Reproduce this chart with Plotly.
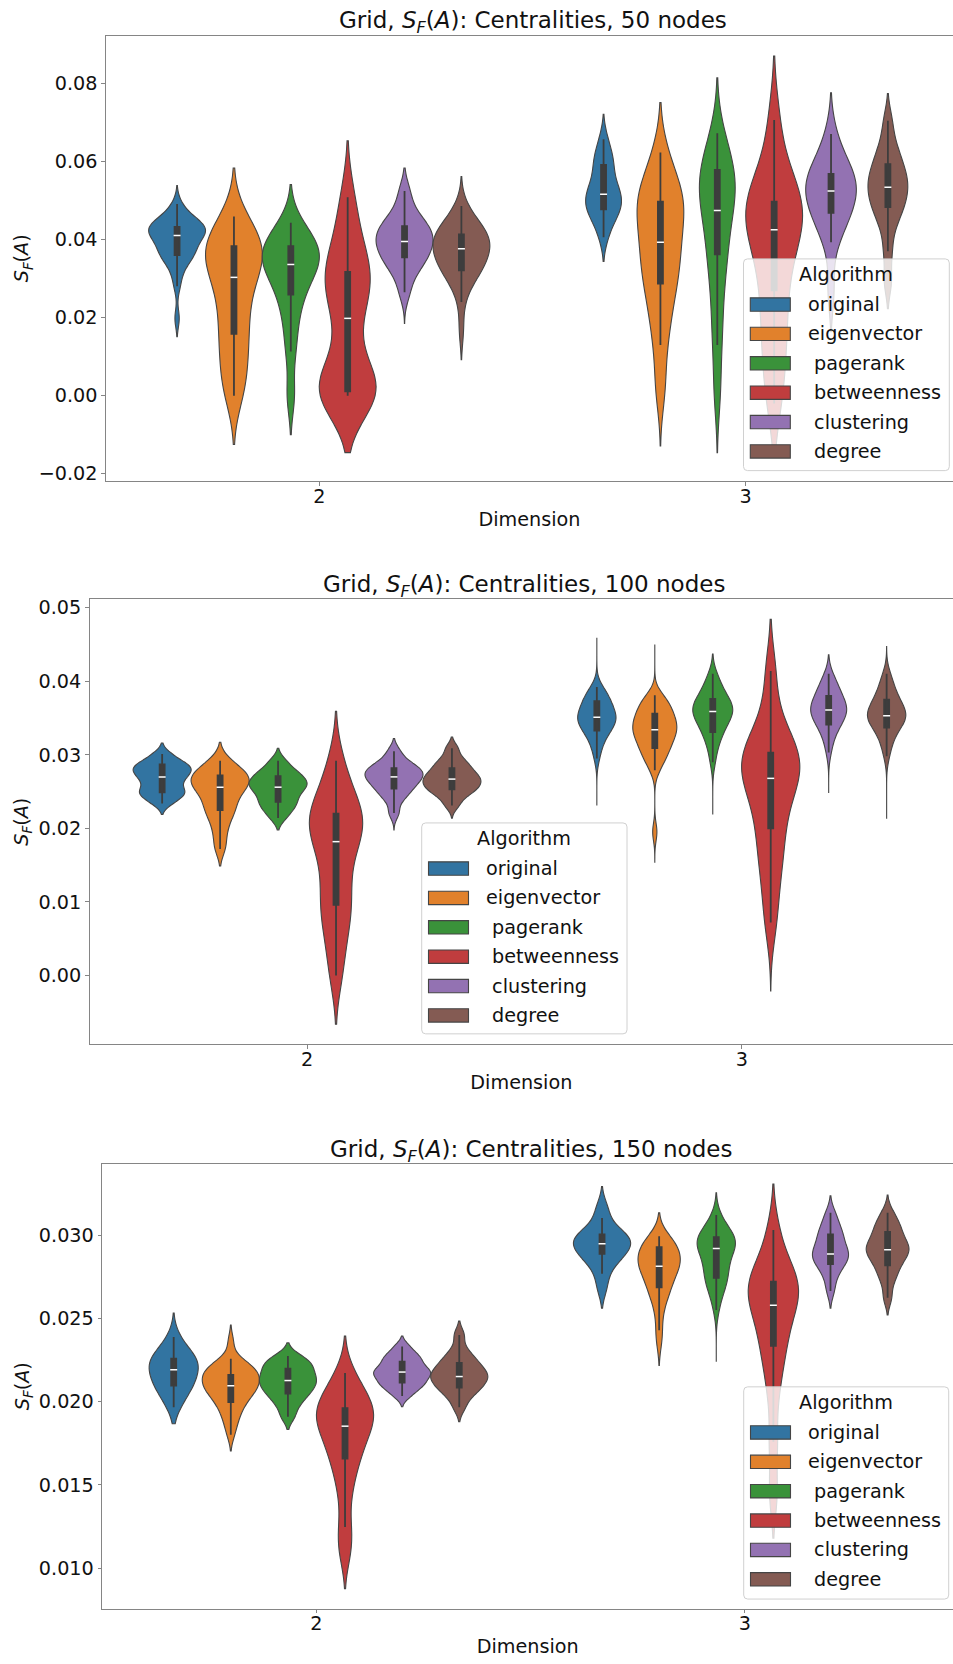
import plotly.graph_objects as go

# ---------------------------------------------------------------- data
ALGORITHMS = ["original", "eigenvector", " pagerank", " betweenness", " clustering", " degree"]
DIMENSIONS = ["2", "3"]
NODE_COUNTS = [50, 100, 150]
COLORS = ["#3274a1", "#e1812c", "#3a923a", "#c03d3e", "#9372b2", "#845b53"]

# S_F(A) values per run, one list per algorithm (order of ALGORITHMS)
S50_D2 = [
    [0.0198, 0.028, 0.031, 0.033, 0.0343, 0.0352, 0.0358, 0.0363, 0.0369, 0.0375, 0.0381, 0.0388, 0.0395, 0.0401, 0.0407,
     0.0412, 0.0416, 0.0419, 0.0422, 0.0425, 0.0428, 0.0431, 0.0434, 0.0438, 0.0442, 0.0447, 0.0453, 0.046, 0.0472, 0.0491],
    [0.0, 0.004, 0.009, 0.013, 0.017, 0.021, 0.025, 0.029, 0.0315, 0.034, 0.0355, 0.037, 0.0385, 0.040, 0.042, 0.0459],
    [0.0, 0.0113, 0.018, 0.023, 0.0265, 0.029, 0.031, 0.033, 0.0342, 0.0352, 0.036, 0.037, 0.0385, 0.040, 0.0415, 0.0443],
    [0.0, 0.0, 0.0005, 0.001, 0.0012, 0.003, 0.008, 0.016, 0.0225, 0.026, 0.029, 0.031, 0.033, 0.037, 0.043, 0.0508],
    [0.0265, 0.031, 0.033, 0.0345, 0.0357, 0.037, 0.038, 0.039, 0.040, 0.041, 0.042, 0.043, 0.044, 0.0455, 0.048, 0.0524],
    [0.0167, 0.024, 0.0275, 0.0295, 0.0306, 0.0314, 0.032, 0.0327, 0.0334, 0.0341, 0.0348, 0.0355, 0.0361, 0.0367, 0.0372,
     0.0379, 0.0384, 0.0389, 0.0394, 0.0399, 0.0404, 0.0409, 0.0414, 0.0419, 0.0425, 0.0432, 0.044, 0.045, 0.0465, 0.0486],
]
S50_D3 = [
    [0.0406, 0.044, 0.046, 0.047, 0.048, 0.049, 0.050, 0.051, 0.052, 0.053, 0.0545, 0.0565, 0.059, 0.0605, 0.062, 0.0657],
    [0.002, 0.013, 0.02, 0.025, 0.029, 0.032, 0.035, 0.038, 0.041, 0.044, 0.047, 0.049, 0.051, 0.053, 0.056, 0.0623],
    [0.001, 0.013, 0.021, 0.029, 0.034, 0.038, 0.042, 0.046, 0.049, 0.051, 0.053, 0.055, 0.0575, 0.059, 0.062, 0.0672],
    [-0.002, 0.006, 0.013, 0.019, 0.025, 0.031, 0.036, 0.040, 0.0435, 0.045, 0.047, 0.049, 0.051, 0.054, 0.059, 0.0706],
    [0.027, 0.0393, 0.043, 0.0455, 0.047, 0.0485, 0.050, 0.0515, 0.053, 0.054, 0.055, 0.0565, 0.0575, 0.059, 0.062, 0.067],
    [0.0293, 0.037, 0.043, 0.046, 0.048, 0.0495, 0.051, 0.0525, 0.054, 0.055, 0.0565, 0.058, 0.060, 0.062, 0.065, 0.0704],
]
S100_D2 = [
    [0.0234, 0.0241, 0.0246, 0.0249, 0.0252, 0.0258, 0.0264, 0.0268, 0.0272, 0.0276, 0.0279, 0.0282, 0.0285, 0.0288, 0.0293, 0.0301],
    [0.0174, 0.0195, 0.0212, 0.0222, 0.0229, 0.0238, 0.0246, 0.0252, 0.0258, 0.0261, 0.0265, 0.0269, 0.0273, 0.0277, 0.0283, 0.0292],
    [0.0214, 0.0224, 0.0230, 0.0235, 0.0240, 0.0246, 0.0251, 0.0255, 0.0258, 0.0261, 0.0264, 0.0268, 0.0272, 0.0276, 0.0282, 0.0292],
    [0.0, 0.004, 0.007, 0.009, 0.0105, 0.013, 0.0155, 0.0175, 0.019, 0.020, 0.021, 0.0215, 0.0225, 0.024, 0.026, 0.0292],
    [0.0221, 0.0238, 0.0246, 0.0252, 0.0256, 0.0261, 0.0265, 0.0268, 0.0271, 0.0274, 0.0277, 0.0280, 0.0283, 0.0287, 0.0293, 0.0305],
    [0.0231, 0.0242, 0.0248, 0.0252, 0.0255, 0.0259, 0.0262, 0.0265, 0.0268, 0.0271, 0.0275, 0.0279, 0.0284, 0.0289, 0.0296, 0.0309],
]
S100_D3 = [
    [0.0295, 0.0308, 0.0316, 0.0322, 0.0327, 0.0331, 0.0334, 0.0337, 0.034, 0.0342, 0.0344, 0.0346, 0.0348, 0.035,
     0.0352, 0.0354, 0.0356, 0.0358, 0.0361, 0.0364, 0.0367, 0.037, 0.0373, 0.0376, 0.0379, 0.0383, 0.0387, 0.0392],
    [0.0195, 0.0279, 0.0288, 0.0295, 0.03, 0.0304, 0.0308, 0.0312, 0.0316, 0.032, 0.0323, 0.0326, 0.0329, 0.0332, 0.0334,
     0.0336, 0.0339, 0.0342, 0.0345, 0.0348, 0.0351, 0.0354, 0.0357, 0.036, 0.0364, 0.0368, 0.0373, 0.0377, 0.0381],
    [0.029, 0.0305, 0.0315, 0.0322, 0.0328, 0.0332, 0.0336, 0.034, 0.0344, 0.0347, 0.035, 0.0353, 0.0355, 0.0357,
     0.0359, 0.0361, 0.0363, 0.0365, 0.0367, 0.0369, 0.0372, 0.0375, 0.0378, 0.0381, 0.0385, 0.039, 0.0396, 0.0402, 0.041],
    [0.0072, 0.012, 0.0155, 0.018, 0.0205, 0.023, 0.0248, 0.0262, 0.0274, 0.0284, 0.0292, 0.030, 0.031, 0.0325, 0.0355, 0.0414],
    [0.0303, 0.0316, 0.0325, 0.0331, 0.0336, 0.034, 0.0343, 0.0346, 0.0349, 0.0352, 0.0354, 0.0356, 0.0358, 0.036,
     0.0362, 0.0364, 0.0366, 0.0368, 0.037, 0.0373, 0.0376, 0.0379, 0.0382, 0.0385, 0.0389, 0.0393, 0.0398, 0.0403, 0.041],
    [0.0298, 0.031, 0.0318, 0.0325, 0.033, 0.0334, 0.0338, 0.0341, 0.0344, 0.0346, 0.0348, 0.035, 0.0352, 0.0353,
     0.0355, 0.0357, 0.0359, 0.0361, 0.0364, 0.0367, 0.037, 0.0373, 0.0376, 0.038, 0.0384, 0.0389, 0.0395, 0.0403, 0.041],
]
S150_D2 = [
    [0.01966, 0.0203, 0.0206, 0.0209, 0.0211, 0.0213, 0.0216, 0.0218, 0.0220, 0.0222, 0.0224, 0.0225, 0.0227, 0.0229, 0.0232, 0.02388],
    [0.01802, 0.0186, 0.019, 0.0193, 0.0196, 0.0198, 0.02, 0.0202, 0.0203, 0.0205, 0.0206, 0.0207, 0.0208, 0.0209, 0.021,
     0.0211, 0.0212, 0.0213, 0.0214, 0.0215, 0.0216, 0.0217, 0.0218, 0.0219, 0.022, 0.0221, 0.0222, 0.0224, 0.02258, 0.0236],
    [0.01909, 0.0197, 0.0201, 0.0204, 0.0206, 0.0208, 0.0210, 0.0212, 0.0213, 0.0215, 0.0217, 0.0219, 0.0221, 0.0223, 0.0225, 0.02275],
    [0.0110, 0.01247, 0.0145, 0.0158, 0.0166, 0.0172, 0.0178, 0.0183, 0.0187, 0.0190, 0.0193, 0.0196, 0.0199, 0.0203, 0.0209, 0.02172],
    [0.02034, 0.0207, 0.0209, 0.0211, 0.0212, 0.0214, 0.0216, 0.0217, 0.0218, 0.0219, 0.0221, 0.0223, 0.0225, 0.0227, 0.0229, 0.02332],
    [0.01966, 0.0203, 0.0206, 0.0208, 0.0210, 0.0212, 0.0214, 0.0215, 0.0216, 0.0218, 0.0220, 0.0222, 0.0224, 0.0227, 0.0231, 0.0240],
]
S150_D3 = [
    [0.0268, 0.02768, 0.0283, 0.0286, 0.0288, 0.0290, 0.0292, 0.0294, 0.0295, 0.0297, 0.0298, 0.0300, 0.0301, 0.0303, 0.03103, 0.0317],
    [0.0236, 0.02429, 0.0252, 0.0258, 0.0262, 0.0265, 0.0267, 0.0269, 0.0271, 0.0273, 0.0275, 0.0277, 0.0279, 0.028, 0.0281,
     0.0282, 0.0283, 0.0284, 0.0285, 0.0286, 0.0287, 0.0289, 0.029, 0.0292, 0.0293, 0.0294, 0.0295, 0.0296, 0.0298, 0.02994],
    [0.0255, 0.0262, 0.0266, 0.0269, 0.0271, 0.0273, 0.0275, 0.0277, 0.0279, 0.0281, 0.0283, 0.0285, 0.0287, 0.0289,
     0.0291, 0.0292, 0.0293, 0.0294, 0.0295, 0.0296, 0.0297, 0.0298, 0.0299, 0.03, 0.0301, 0.0303, 0.0305, 0.0308, 0.03121],
    [0.0145, 0.0176, 0.0205, 0.0222, 0.0231, 0.0240, 0.0248, 0.0255, 0.0260, 0.0264, 0.0268, 0.0271, 0.0274, 0.0279, 0.0287, 0.03031],
    [0.02665, 0.0274, 0.0279, 0.0282, 0.0284, 0.0286, 0.0288, 0.0289, 0.0291, 0.0293, 0.0296, 0.0299, 0.0301, 0.0304, 0.0308, 0.03134],
    [0.02624, 0.0272, 0.0277, 0.0281, 0.0284, 0.0287, 0.0289, 0.0291, 0.0292, 0.0294, 0.0296, 0.0299, 0.0302, 0.0305, 0.0308, 0.03134],
]

# Box summaries per algorithm: (lower whisker, q1, median, q3, upper whisker)
B50_D2 = [(0.028, 0.036, 0.041, 0.0432, 0.0491), (0.0, 0.0158, 0.0303, 0.0383, 0.0459),
          (0.0113, 0.0259, 0.0336, 0.0383, 0.0443), (0.0, 0.0011, 0.0198, 0.0317, 0.0508),
          (0.0265, 0.0354, 0.0395, 0.0434, 0.0524), (0.024, 0.0321, 0.0376, 0.0413, 0.0486)]
B50_D3 = [(0.0406, 0.0477, 0.0516, 0.0591, 0.0657), (0.013, 0.0287, 0.0393, 0.0497, 0.0623),
          (0.013, 0.0362, 0.0474, 0.0578, 0.0672), (-0.002, 0.027, 0.0425, 0.0497, 0.0706),
          (0.0393, 0.0468, 0.0524, 0.0568, 0.067), (0.037, 0.0483, 0.0534, 0.0593, 0.0704)]
B100_D2 = [(0.0234, 0.0249, 0.0270, 0.0287, 0.0301), (0.0172, 0.0225, 0.0256, 0.0272, 0.0292),
           (0.0214, 0.0236, 0.0256, 0.0271, 0.0292), (0.0, 0.0096, 0.0182, 0.0220, 0.0292),
           (0.0221, 0.0254, 0.0270, 0.0282, 0.0305), (0.0231, 0.0253, 0.0267, 0.0282, 0.0309)]
B100_D3 = [(0.0295, 0.0333, 0.0351, 0.0373, 0.0392), (0.0279, 0.0309, 0.0334, 0.0356, 0.0381),
           (0.029, 0.0331, 0.0359, 0.0376, 0.041), (0.0072, 0.0200, 0.0268, 0.0303, 0.0414),
           (0.0303, 0.0341, 0.0361, 0.0380, 0.041), (0.0298, 0.0337, 0.0353, 0.0375, 0.041)]
B150_D2 = [(0.01966, 0.02096, 0.02192, 0.02258, 0.02388), (0.01802, 0.01997, 0.02096, 0.02161, 0.02258),
           (0.01909, 0.02048, 0.02127, 0.02198, 0.02275), (0.01247, 0.01658, 0.01853, 0.01962, 0.02172),
           (0.02034, 0.02114, 0.02178, 0.0224, 0.02332), (0.01966, 0.02085, 0.02151, 0.02233, 0.0240)]
B150_D3 = [(0.02768, 0.02887, 0.02949, 0.03004, 0.03103), (0.02429, 0.02686, 0.02813, 0.02928, 0.02994),
           (0.0255, 0.02743, 0.0292, 0.02988, 0.03121), (0.0176, 0.02336, 0.02579, 0.02721, 0.03031),
           (0.02665, 0.02826, 0.02887, 0.03004, 0.03134), (0.02624, 0.02819, 0.02912, 0.03019, 0.03134)]

# KDE settings per violin: drawn extent (low, high) and bandwidth
SPAN50_D2 = [(0.0151, 0.0538), (-0.0125, 0.0583), (-0.010, 0.0541), (-0.0146, 0.0653), (0.0185, 0.0583), (0.0092, 0.0561)]
SPAN50_D3 = [(0.0344, 0.0721), (-0.0129, 0.0751), (-0.0146, 0.0814), (-0.014, 0.087), (0.0164, 0.0776), (0.0223, 0.0774)]
SPAN100_D2 = [(0.0219, 0.0316), (0.0149, 0.0317), (0.0198, 0.0309), (-0.0066, 0.0359), (0.0198, 0.0322), (0.0214, 0.0324)]
SPAN100_D3 = [(0.0231, 0.0459), (0.0154, 0.045), (0.0219, 0.0437), (-0.0021, 0.0484), (0.0248, 0.0436), (0.0213, 0.0447)]
SPAN150_D2 = [(0.01868, 0.02532), (0.01705, 0.0246), (0.01833, 0.02353), (0.00877, 0.02394), (0.0197, 0.02394), (0.0188, 0.02484)]
SPAN150_D3 = [(0.02562, 0.03292), (0.02217, 0.03134), (0.0224, 0.03255), (0.0118, 0.03307), (0.02562, 0.03237), (0.02521, 0.03241)]

BW50_D2 = [0.0023, 0.0062, 0.0049, 0.0073, 0.003, 0.0037]
BW50_D3 = [0.0032, 0.0064, 0.0071, 0.0082, 0.0053, 0.0035]
BW100_D2 = [0.00075, 0.00125, 0.00085, 0.0033, 0.00085, 0.00075]
BW100_D3 = [0.0012, 0.0012, 0.00135, 0.0035, 0.0013, 0.0013]
BW150_D2 = [0.00072, 0.0005, 0.0004, 0.0011, 0.00031, 0.00042]
BW150_D3 = [0.0006, 0.0007, 0.00067, 0.00138, 0.0005, 0.0005]

# relative violin widths (1 = full slot)
W50_D2 = [1.0, 1.0, 1.0, 1.0, 1.0, 1.0]
W50_D3 = [0.63, 0.82, 0.63, 1.0, 0.89, 0.70]
W100_D2 = [1.0, 1.0, 1.0, 0.92, 1.0, 1.0]
W100_D3 = [0.66, 0.76, 0.69, 1.0, 0.62, 0.66]
W150_D2 = [0.86, 1.0, 1.0, 1.0, 1.0, 1.0]
W150_D3 = [1.0, 0.74, 0.67, 0.88, 0.63, 0.75]

# ---------------------------------------------------------------- layout
FIG_W, FIG_H = 953, 1664
FONT = "DejaVu Sans"
TEXT = "#111111"
EDGE = "#454545"
INNER = "#3d3d3d"
SPINE = "#858585"
TICK_FS = 19.2
TITLE_FS = 23
XMAX = 1.486
SLOT = 0.8 / len(ALGORITHMS)

PANELS = [
    dict(samples=(S50_D2, S50_D3), boxes=(B50_D2, B50_D3), spans=(SPAN50_D2, SPAN50_D3),
         bws=(BW50_D2, BW50_D3), widths=(W50_D2, W50_D3),
         left=106.0, top=32.7, bottom=480.0, yrange=[-0.02186, 0.09224], dtick=0.02, fmt=".2f",
         title_y=19.5, legend=(743.5, 257.0, 949.3, 469.6)),
    dict(samples=(S100_D2, S100_D3), boxes=(B100_D2, B100_D3), spans=(SPAN100_D2, SPAN100_D3),
         bws=(BW100_D2, BW100_D3), widths=(W100_D2, W100_D3),
         left=89.7, top=598.9, bottom=1045.5, yrange=[-0.00931, 0.05112], dtick=0.01, fmt=".2f",
         title_y=585.5, legend=(421.7, 823.4, 627.0, 1035.2)),
    dict(samples=(S150_D2, S150_D3), boxes=(B150_D2, B150_D3), spans=(SPAN150_D2, SPAN150_D3),
         bws=(BW150_D2, BW150_D3), widths=(W150_D2, W150_D3),
         left=102.3, top=1165.6, bottom=1612.5, yrange=[0.00757, 0.03429], dtick=0.005, fmt=".3f",
         title_y=1152.5, legend=(743.7, 1389.7, 948.7, 1602.8)),
]


def px_x(x):
    return x / FIG_W


def px_y(y):
    return 1 - y / FIG_H


fig = go.Figure()
shapes = []
annotations = []
layout_axes = {}

for p_idx, (nodes, panel) in enumerate(zip(NODE_COUNTS, PANELS)):
    suffix = "" if p_idx == 0 else str(p_idx + 1)
    xref, yref = "x" + suffix, "y" + suffix
    px_per_unit = (FIG_W - panel["left"]) / (XMAX + 0.5)
    box_w = 5.0 / px_per_unit

    med_x, med_y = [], []
    for d_idx in range(len(DIMENSIONS)):
        for a_idx, color in enumerate(COLORS):
            pos = d_idx - 0.4 + SLOT * (a_idx + 0.5)
            values = panel["samples"][d_idx][a_idx]
            lo, hi = panel["spans"][d_idx][a_idx]
            fig.add_trace(go.Violin(
                x0=pos, y=values, xaxis=xref, yaxis=yref,
                width=SLOT * panel["widths"][d_idx][a_idx], scalemode="width",
                bandwidth=panel["bws"][d_idx][a_idx], spanmode="manual", span=[lo, hi],
                points=False, fillcolor=color, opacity=1,
                line=dict(color=EDGE, width=1.1),
                box=dict(visible=False), meanline=dict(visible=False),
                name=ALGORITHMS[a_idx].strip(), showlegend=False, hoverinfo="skip",
            ))
            wlo, q1, med, q3, whi = panel["boxes"][d_idx][a_idx]
            fig.add_trace(go.Box(
                x=[pos], q1=[q1], median=[med], q3=[q3], lowerfence=[wlo], upperfence=[whi],
                xaxis=xref, yaxis=yref, width=box_w, whiskerwidth=0,
                fillcolor=INNER, line=dict(color=INNER, width=1.8),
                boxpoints=False, showlegend=False, hoverinfo="skip",
            ))
            med_x.append(pos)
            med_y.append(med)

    fig.add_trace(go.Scatter(
        x=med_x, y=med_y, xaxis=xref, yaxis=yref, mode="markers",
        marker=dict(symbol="line-ew", size=5, line=dict(color="white", width=1.5)),
        showlegend=False, hoverinfo="skip",
    ))

    layout_axes["xaxis" + suffix] = dict(
        domain=[px_x(panel["left"]), 1.0], range=[-0.5, XMAX], anchor=yref,
        tickmode="array", tickvals=[0, 1], ticktext=DIMENSIONS,
        ticks="outside", ticklen=3.5, tickwidth=1, tickcolor=SPINE,
        ticklabelstandoff=-6,
        showline=True, linecolor=SPINE, linewidth=1.3, mirror=True,
        showgrid=False, zeroline=False,
        tickfont=dict(family=FONT, size=TICK_FS, color=TEXT),
        title=dict(text="Dimension", font=dict(family=FONT, size=TICK_FS, color=TEXT), standoff=5),
    )
    layout_axes["yaxis" + suffix] = dict(
        domain=[px_y(panel["bottom"]), px_y(panel["top"])], range=panel["yrange"], anchor=xref,
        tick0=0, dtick=panel["dtick"], tickformat=panel["fmt"],
        ticks="outside", ticklen=3.5, tickwidth=1, tickcolor=SPINE,
        showline=True, linecolor=SPINE, linewidth=1.3, mirror=False,
        showgrid=False, zeroline=False,
        tickfont=dict(family=FONT, size=TICK_FS, color=TEXT),
        title=dict(text="<i>S</i><sub><i>F</i></sub>(<i>A</i>)",
                   font=dict(family=FONT, size=TICK_FS, color=TEXT), standoff=4),
    )

    # panel title
    annotations.append(dict(
        text=f"Grid, <i>S</i><sub><i>F</i></sub>(<i>A</i>): Centralities, {nodes} nodes",
        xref="paper", yref="paper", x=px_x((panel["left"] + FIG_W + 6) / 2), y=px_y(panel["title_y"]),
        xanchor="center", yanchor="middle", showarrow=False,
        font=dict(family=FONT, size=TITLE_FS, color=TEXT),
    ))

    # legend box
    lx0, ly0, lx1, ly1 = panel["legend"]
    r = 4.0
    path = (
        f"M {px_x(lx0 + r)},{px_y(ly0)} L {px_x(lx1 - r)},{px_y(ly0)} "
        f"Q {px_x(lx1)},{px_y(ly0)} {px_x(lx1)},{px_y(ly0 + r)} "
        f"L {px_x(lx1)},{px_y(ly1 - r)} Q {px_x(lx1)},{px_y(ly1)} {px_x(lx1 - r)},{px_y(ly1)} "
        f"L {px_x(lx0 + r)},{px_y(ly1)} Q {px_x(lx0)},{px_y(ly1)} {px_x(lx0)},{px_y(ly1 - r)} "
        f"L {px_x(lx0)},{px_y(ly0 + r)} Q {px_x(lx0)},{px_y(ly0)} {px_x(lx0 + r)},{px_y(ly0)} Z"
    )
    shapes.append(dict(type="path", path=path, xref="paper", yref="paper",
                       fillcolor="rgba(255,255,255,0.8)", line=dict(color="#d0d0d0", width=1),
                       layer="above"))
    annotations.append(dict(
        text="Algorithm", xref="paper", yref="paper",
        x=px_x((lx0 + lx1) / 2), y=px_y(ly0 + 15.5), xanchor="center", yanchor="middle",
        showarrow=False, font=dict(family=FONT, size=TICK_FS, color=TEXT),
    ))
    for a_idx, (label, color) in enumerate(zip(ALGORITHMS, COLORS)):
        cy = ly0 + 45.8 + 29.5 * a_idx
        shapes.append(dict(
            type="rect", xref="paper", yref="paper",
            x0=px_x(lx0 + 6.8), x1=px_x(lx0 + 46.8), y0=px_y(cy - 6.7), y1=px_y(cy + 6.7),
            fillcolor=color, line=dict(color=EDGE, width=1.1), layer="above",
        ))
        annotations.append(dict(
            text=label.replace(" ", "\u00a0"), xref="paper", yref="paper",
            x=px_x(lx0 + 62.0), y=px_y(cy), xanchor="left", yanchor="middle",
            showarrow=False, font=dict(family=FONT, size=TICK_FS, color=TEXT),
        ))

fig.update_layout(
    width=FIG_W, height=FIG_H,
    margin=dict(l=0, r=0, t=0, b=0),
    paper_bgcolor="white", plot_bgcolor="white",
    violinmode="overlay", boxmode="overlay",
    showlegend=False, hovermode=False,
    font=dict(family=FONT, size=TICK_FS, color=TEXT),
    shapes=shapes, annotations=annotations,
    **layout_axes,
)

fig.write_html("out.html")
